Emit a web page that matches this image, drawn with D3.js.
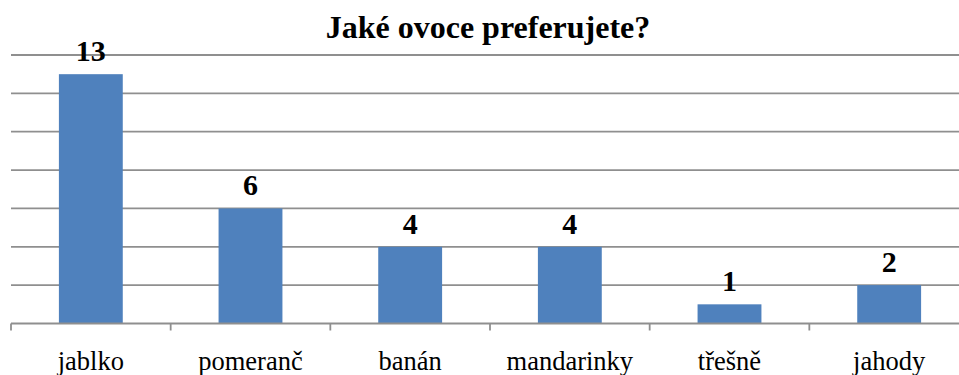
<!DOCTYPE html>
<html><head><meta charset="utf-8">
<script src="https://cdn.jsdelivr.net/npm/d3@7"></script>
<style>html,body{margin:0;padding:0;background:#fff;overflow:hidden}
text{font-family:"Liberation Serif","DejaVu Serif",serif}</style>
</head><body>
<script>
const title = "Jaké ovoce preferujete?";
const categories = ["jablko","pomeranč","banán","mandarinky","třešně","jahody"];
const values = [13,6,4,4,1,2];
const yTicks = [0,2,4,6,8,10,12,14];

const W = 959, H = 375;
const svg = d3.select("body").append("svg").attr("width",W).attr("height",H);
const x = d3.scaleBand().domain(categories).range([11,969]).paddingInner(0.6).paddingOuter(0.3);
const y = d3.scaleLinear().domain([0,14]).range([323.5,55]);

svg.append("g").selectAll("line").data(yTicks.filter(d=>d>0)).join("line")
  .attr("x1",11).attr("x2",W).attr("y1",d=>y(d)).attr("y2",d=>y(d))
  .attr("stroke","#8f8f8f").attr("stroke-width",1.8);

svg.append("g").selectAll("rect").data(values).join("rect")
  .attr("x",(d,i)=>x(categories[i])).attr("width",x.bandwidth())
  .attr("y",d=>y(d)).attr("height",d=>y(0)-y(d)).attr("fill","#4F81BD");

svg.append("line").attr("x1",11).attr("x2",W).attr("y1",y(0)).attr("y2",y(0)).attr("stroke","#8f8f8f").attr("stroke-width",1.8);
const bw = (969-11)/categories.length;
svg.append("g").selectAll("line").data(d3.range(categories.length+1)).join("line")
  .attr("x1",i=>11+i*bw).attr("x2",i=>11+i*bw)
  .attr("y1",y(0)).attr("y2",y(0)+7).attr("stroke","#8f8f8f").attr("stroke-width",1.8);

svg.append("g").selectAll("text").data(categories).join("text")
  .attr("x",d=>x(d)+x.bandwidth()/2).attr("y",370)
  .attr("text-anchor","middle")
  .attr("font-size",26.5).attr("fill","#000").text(d=>d);

svg.append("g").selectAll("text").data(values).join("text")
  .attr("x",(d,i)=>x(categories[i])+x.bandwidth()/2).attr("y",d=>y(d)-13)
  .attr("text-anchor","middle")
  .attr("font-weight","bold").attr("font-size",30).attr("fill","#000").text(d=>d);

svg.append("text").attr("x",488).attr("y",38).attr("text-anchor","middle")
  .attr("font-weight","bold")
  .attr("font-size",32).attr("fill","#000").text(title);
</script>
</body></html>
